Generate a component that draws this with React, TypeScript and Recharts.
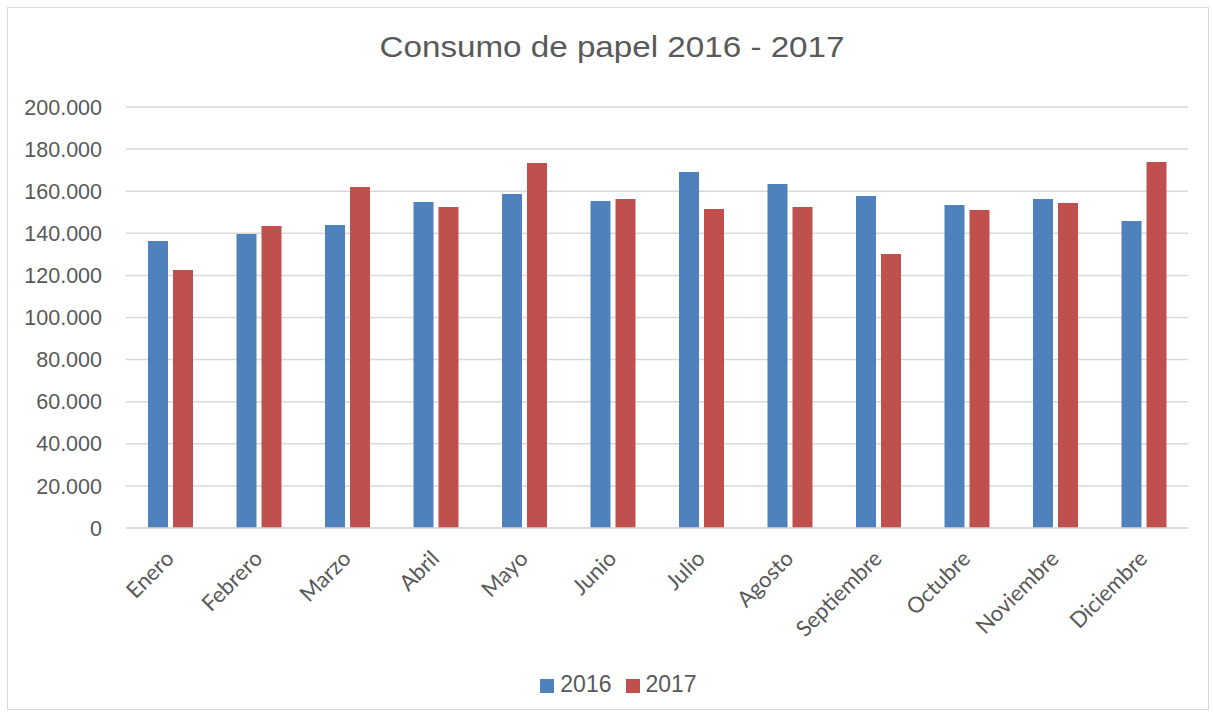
import React from 'react';
import { BarChart, Bar, XAxis, YAxis, CartesianGrid, Legend } from 'recharts';

const months = ['Enero', 'Febrero', 'Marzo', 'Abril', 'Mayo', 'Junio', 'Julio', 'Agosto', 'Septiembre', 'Octubre', 'Noviembre', 'Diciembre'];
const values2016 = [136300, 139700, 143900, 154900, 158700, 155300, 169100, 163400, 157700, 153400, 156300, 145800];
const values2017 = [122600, 143500, 162000, 152500, 173400, 156300, 151500, 152500, 130200, 151100, 154400, 173900];
const yTicks = [0, 20000, 40000, 60000, 80000, 100000, 120000, 140000, 160000, 180000, 200000];

const chartData = months.map((month, i) => ({
  month,
  y2016: values2016[i],
  y2017: values2017[i],
}));

const TEXT = '#595959';
const ARIAL = "'Liberation Sans', Arial, sans-serif";

// 200000 -> "200.000"
const formatMiles = (v: number) => String(v).replace(/\B(?=(\d{3})+(?!\d))/g, '.');

const MonthTick = ({ x, y, payload }: any) => (
  <g transform={`translate(${x + 5},${y + 32})`}>
    <text
      textAnchor="end"
      transform="rotate(-45)"
      fill={TEXT}
      fontSize={22}
      fontFamily="Lato, 'Open Sans', sans-serif"
    >
      {payload.value}
    </text>
  </g>
);

const App: React.FC = () => {
  return (
    <div style={{ position: 'absolute', left: 0, top: 0, width: 1213, height: 718, background: '#fff' }}>
      <div
        style={{
          position: 'absolute',
          left: 7,
          top: 7,
          width: 1202,
          height: 703,
          border: '1px solid #d9d9d9',
          boxSizing: 'border-box',
        }}
      />
      <svg width={1213} height={80} style={{ position: 'absolute', left: 0, top: 0 }}>
        <text
          x={612}
          y={57}
          textAnchor="middle"
          fontFamily={ARIAL}
          fontSize={30}
          fill={TEXT}
          textLength={465}
          lengthAdjust="spacingAndGlyphs"
        >
          Consumo de papel 2016 - 2017
        </text>
      </svg>
      <BarChart
        width={1213}
        height={718}
        data={chartData}
        margin={{ top: 107, right: 25, left: 16, bottom: 43 }}
        barSize={20}
        barGap={5}
        style={{ position: 'absolute', left: 0, top: 0 }}
      >
        <CartesianGrid vertical={false} stroke="#d9d9d9" strokeWidth={1.5} />
        <XAxis
          dataKey="month"
          interval={0}
          tick={<MonthTick />}
          tickLine={false}
          tickSize={0}
          tickMargin={0}
          axisLine={{ stroke: '#d9d9d9', strokeWidth: 1.5 }}
          height={120}
        />
        <YAxis
          domain={[0, 200000]}
          ticks={yTicks}
          tickFormatter={formatMiles}
          tickLine={false}
          axisLine={false}
          tickSize={0}
          tickMargin={24}
          width={110}
          tick={{ fill: TEXT, fontSize: 21.5, fontFamily: ARIAL }}
        />
        <Legend
          verticalAlign="bottom"
          iconType="square"
          iconSize={14}
          wrapperStyle={{
            top: 671,
            left: 19,
            width: 1213,
            fontFamily: ARIAL,
            fontSize: 23,
          }}
          formatter={(value: string) => (
            <span style={{ color: TEXT, marginLeft: 2, marginRight: 4 }}>{value}</span>
          )}
        />
        <Bar dataKey="y2016" name="2016" fill="#4F81BD" isAnimationActive={false} />
        <Bar dataKey="y2017" name="2017" fill="#C0504D" isAnimationActive={false} />
      </BarChart>
    </div>
  );
};

export default App;
